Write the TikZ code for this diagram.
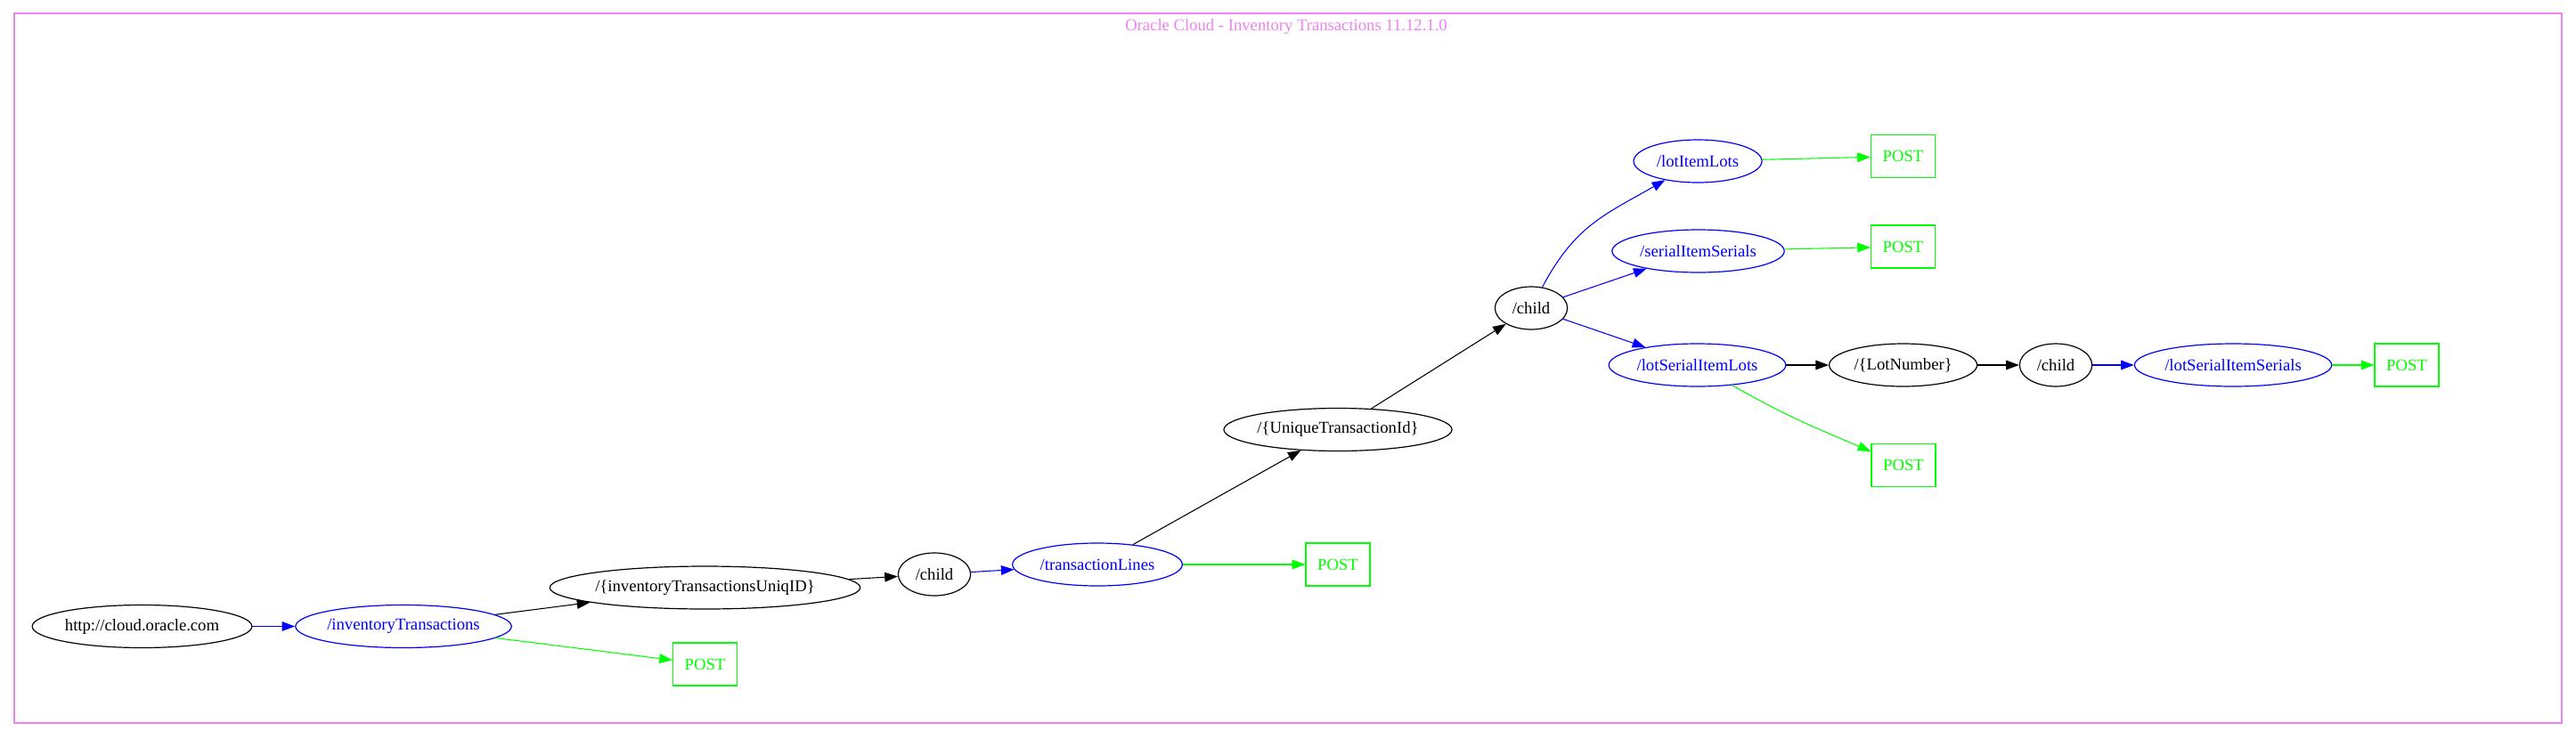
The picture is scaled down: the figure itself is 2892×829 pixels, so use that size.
\documentclass[tikz,border=0pt]{standalone}
\usepackage{fontspec}
\setmainfont{Liberation Serif}
\usetikzlibrary{shapes.geometric,arrows.meta}
\definecolor{gvviolet}{HTML}{EE82EE}
\definecolor{gvgreen}{HTML}{00FF00}
\definecolor{gvblue}{HTML}{0000FF}
\tikzset{
  base/.style={font=\fontsize{14pt}{16pt}\selectfont, inner sep=0pt, line width=0.9pt},
  ell/.style={base, ellipse, draw=black, minimum height=36pt},
  bell/.style={ell, draw=gvblue, text=gvblue},
  postbox/.style={base, rectangle, draw=gvgreen, text=gvgreen, minimum width=54pt, minimum height=36pt},
  edgek/.style={-{Triangle[length=11pt,width=8pt]}, line width=0.8pt, black},
  edgeb/.style={edgek, gvblue},
  edgeg/.style={edgek, gvgreen},
}
\begin{document}
\begin{tikzpicture}[x=0.75pt,y=-0.75pt]
\useasboundingbox (0,0) rectangle (2892,829);
\draw[gvviolet, line width=0.8pt] (16,15) rectangle (2876,812);
\node[base, text=gvviolet] (title) at (1444,30) {Oracle Cloud - Inventory Transactions 11.12.1.0};

\node[ell, minimum width=185pt] (http) at (159.5,703.5) {http://cloud.oracle.com};
\node[bell, minimum width=181.5pt] (invT) at (453,703.5) {/inventoryTransactions};
\node[ell, minimum width=254pt] (invUID) at (791.5,660) {/\{inventoryTransactionsUniqID\}};
\node[postbox] (post1) at (791.5,746) {POST};
\node[ell, minimum width=61pt] (child1) at (1049,645) {/child};
\node[bell, minimum width=143pt] (tLines) at (1232,634) {/transactionLines};
\node[postbox] (post2) at (1502,634) {POST};
\node[ell, minimum width=192pt] (utid) at (1502,482.5) {/\{UniqueTransactionId\}};
\node[ell, minimum width=61pt] (child2) at (1719,346) {/child};
\node[bell, minimum width=108pt] (lil) at (1906,181) {/lotItemLots};
\node[postbox] (post3) at (2136.5,175.5) {POST};
\node[bell, minimum width=145pt] (sis) at (1906.5,282) {/serialItemSerials};
\node[postbox] (post4) at (2136.5,277) {POST};
\node[bell, minimum width=149pt] (lsil) at (1905.5,410) {/lotSerialItemLots};
\node[ell, minimum width=124.5pt] (lotnum) at (2136.6,410) {/\{LotNumber\}};
\node[ell, minimum width=61pt] (child3) at (2308,410) {/child};
\node[bell, minimum width=166pt] (lsis) at (2507,410) {/lotSerialItemSerials};
\node[postbox] (post6) at (2702,410) {POST};
\node[postbox] (post5) at (2137,522.5) {POST};

\draw[edgeb] (http) -- (invT);
\draw[edgek] (invT) -- (invUID);
\draw[edgeg] (invT) -- (post1);
\draw[edgek] (invUID) -- (child1);
\draw[edgeb] (child1) -- (tLines);
\draw[edgeg] (tLines) -- (post2);
\draw[edgek] (tLines) -- (utid);
\draw[edgek] (utid) -- (child2);
\draw[edgeb] (child2) to[out=62, in=210, looseness=1.1] (lil);
\draw[edgeb] (child2) -- (sis);
\draw[edgeb] (child2) -- (lsil);
\draw[edgeg] (lil) -- (post3);
\draw[edgeg] (sis) -- (post4);
\draw[edgek] (lsil) -- (lotnum);
\draw[edgeg] (lsil) to[out=-30, in=157] (post5);
\draw[edgek] (lotnum) -- (child3);
\draw[edgeb] (child3) -- (lsis);
\draw[edgeg] (lsis) -- (post6);
\end{tikzpicture}
\end{document}
